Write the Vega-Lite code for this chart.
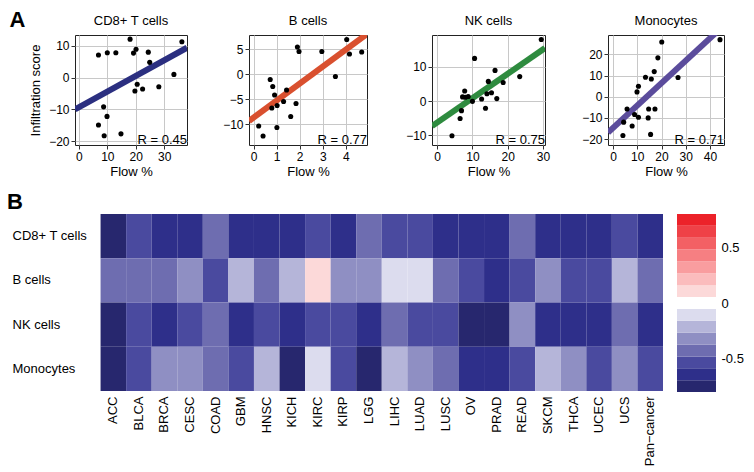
{
  "$schema": "https://vega.github.io/schema/vega-lite/v6.json",
  "padding": {"left": 7, "top": 8, "right": 5, "bottom": 5},
  "config": {
    "font": "Liberation Sans",
    "axis": {"labelFont": "Liberation Sans", "titleFont": "Liberation Sans", "labelColor": "#000", "titleColor": "#000", "titleFontWeight": "normal", "labelOverlap": false, "tickCount": 12},
    "title": {"font": "Liberation Sans", "fontWeight": "normal", "fontSize": 13, "color": "#000", "frame": "group", "offset": 7},
    "legend": {"labelFont": "Liberation Sans", "labelColor": "#000"}
  },
  "datasets": {
    "pts": [
      {"cell": "CD8+ T cells", "flow": 6.9, "score": 7.1},
      {"cell": "CD8+ T cells", "flow": 10.0, "score": 7.8},
      {"cell": "CD8+ T cells", "flow": 13.0, "score": 7.8},
      {"cell": "CD8+ T cells", "flow": 18.0, "score": 12.1},
      {"cell": "CD8+ T cells", "flow": 19.2, "score": 7.7},
      {"cell": "CD8+ T cells", "flow": 20.1, "score": 8.9},
      {"cell": "CD8+ T cells", "flow": 24.4, "score": 8.0},
      {"cell": "CD8+ T cells", "flow": 24.9, "score": 4.8},
      {"cell": "CD8+ T cells", "flow": 36.2, "score": 11.3},
      {"cell": "CD8+ T cells", "flow": 33.4, "score": 1.0},
      {"cell": "CD8+ T cells", "flow": 20.5, "score": -2.1},
      {"cell": "CD8+ T cells", "flow": 19.7, "score": -4.2},
      {"cell": "CD8+ T cells", "flow": 22.4, "score": -3.6},
      {"cell": "CD8+ T cells", "flow": 28.1, "score": -2.9},
      {"cell": "CD8+ T cells", "flow": 8.7, "score": -9.2},
      {"cell": "CD8+ T cells", "flow": 9.9, "score": -12.2},
      {"cell": "CD8+ T cells", "flow": 6.9, "score": -14.9},
      {"cell": "CD8+ T cells", "flow": 8.9, "score": -18.3},
      {"cell": "CD8+ T cells", "flow": 14.8, "score": -17.7},
      {"cell": "B cells", "flow": 0.22, "score": -10.4},
      {"cell": "B cells", "flow": 0.41, "score": -12.4},
      {"cell": "B cells", "flow": 0.72, "score": -1.1},
      {"cell": "B cells", "flow": 0.83, "score": -2.5},
      {"cell": "B cells", "flow": 0.91, "score": -4.2},
      {"cell": "B cells", "flow": 0.79, "score": -6.8},
      {"cell": "B cells", "flow": 1.02, "score": -6.3},
      {"cell": "B cells", "flow": 1.01, "score": -10.7},
      {"cell": "B cells", "flow": 1.43, "score": -3.2},
      {"cell": "B cells", "flow": 1.30, "score": -5.5},
      {"cell": "B cells", "flow": 1.61, "score": -8.5},
      {"cell": "B cells", "flow": 1.84, "score": -5.9},
      {"cell": "B cells", "flow": 1.90, "score": 5.4},
      {"cell": "B cells", "flow": 1.97, "score": 4.5},
      {"cell": "B cells", "flow": 2.96, "score": 4.5},
      {"cell": "B cells", "flow": 3.55, "score": -0.5},
      {"cell": "B cells", "flow": 4.04, "score": 6.9},
      {"cell": "B cells", "flow": 4.16, "score": 4.0},
      {"cell": "B cells", "flow": 4.69, "score": 4.4},
      {"cell": "NK cells", "flow": 29.5, "score": 17.9},
      {"cell": "NK cells", "flow": 10.6, "score": 12.4},
      {"cell": "NK cells", "flow": 16.4, "score": 8.9},
      {"cell": "NK cells", "flow": 23.4, "score": 7.1},
      {"cell": "NK cells", "flow": 14.5, "score": 5.7},
      {"cell": "NK cells", "flow": 18.7, "score": 5.4},
      {"cell": "NK cells", "flow": 15.4, "score": 2.4},
      {"cell": "NK cells", "flow": 14.1, "score": 2.1},
      {"cell": "NK cells", "flow": 7.8, "score": 2.9},
      {"cell": "NK cells", "flow": 7.2, "score": 1.2},
      {"cell": "NK cells", "flow": 8.0, "score": 1.1},
      {"cell": "NK cells", "flow": 8.8, "score": 1.3},
      {"cell": "NK cells", "flow": 10.0, "score": -0.1},
      {"cell": "NK cells", "flow": 12.6, "score": 0.6},
      {"cell": "NK cells", "flow": 16.9, "score": 0.7},
      {"cell": "NK cells", "flow": 13.7, "score": -2.1},
      {"cell": "NK cells", "flow": 6.9, "score": -2.8},
      {"cell": "NK cells", "flow": 6.5, "score": -5.1},
      {"cell": "NK cells", "flow": 4.2, "score": -10.1},
      {"cell": "Monocytes", "flow": 44.1, "score": 27.0},
      {"cell": "Monocytes", "flow": 20.1, "score": 25.9},
      {"cell": "Monocytes", "flow": 18.5, "score": 18.4},
      {"cell": "Monocytes", "flow": 17.0, "score": 11.9},
      {"cell": "Monocytes", "flow": 13.4, "score": 9.2},
      {"cell": "Monocytes", "flow": 15.8, "score": 8.4},
      {"cell": "Monocytes", "flow": 26.8, "score": 9.1},
      {"cell": "Monocytes", "flow": 10.5, "score": 5.0},
      {"cell": "Monocytes", "flow": 9.9, "score": 2.3},
      {"cell": "Monocytes", "flow": 5.8, "score": -5.8},
      {"cell": "Monocytes", "flow": 14.7, "score": -5.8},
      {"cell": "Monocytes", "flow": 17.3, "score": -5.8},
      {"cell": "Monocytes", "flow": 8.9, "score": -8.4},
      {"cell": "Monocytes", "flow": 10.5, "score": -9.7},
      {"cell": "Monocytes", "flow": 14.5, "score": -10.0},
      {"cell": "Monocytes", "flow": 7.9, "score": -13.8},
      {"cell": "Monocytes", "flow": 4.4, "score": -12.0},
      {"cell": "Monocytes", "flow": 4.1, "score": -18.3},
      {"cell": "Monocytes", "flow": 15.5, "score": -17.8}
    ],
    "fit": [
      {"cell": "CD8+ T cells", "flow": -1.35, "score": -10.0},
      {"cell": "CD8+ T cells", "flow": 38, "score": 9.4},
      {"cell": "B cells", "flow": -0.2, "score": -9.4},
      {"cell": "B cells", "flow": 4.92, "score": 8.0},
      {"cell": "NK cells", "flow": -1.46, "score": -7.3},
      {"cell": "NK cells", "flow": 30.56, "score": 15.4},
      {"cell": "Monocytes", "flow": -2.05, "score": -16.9},
      {"cell": "Monocytes", "flow": 45.75, "score": 33.8}
    ],
    "bins": [
      {"lo": -0.8, "hi": -0.6933, "mid": -0.7467},
      {"lo": -0.6933, "hi": -0.5867, "mid": -0.64},
      {"lo": -0.5867, "hi": -0.48, "mid": -0.5333},
      {"lo": -0.48, "hi": -0.3733, "mid": -0.4267},
      {"lo": -0.3733, "hi": -0.2667, "mid": -0.32},
      {"lo": -0.2667, "hi": -0.16, "mid": -0.2133},
      {"lo": -0.16, "hi": -0.0533, "mid": -0.1067},
      {"lo": -0.0533, "hi": 0.0533, "mid": 0},
      {"lo": 0.0533, "hi": 0.16, "mid": 0.1067},
      {"lo": 0.16, "hi": 0.2667, "mid": 0.2133},
      {"lo": 0.2667, "hi": 0.3733, "mid": 0.32},
      {"lo": 0.3733, "hi": 0.48, "mid": 0.4267},
      {"lo": 0.48, "hi": 0.5867, "mid": 0.5333},
      {"lo": 0.5867, "hi": 0.6933, "mid": 0.64},
      {"lo": 0.6933, "hi": 0.8, "mid": 0.7467}
    ],
    "heat": [
      {"cancer": "ACC", "cell": "CD8+ T cells", "r": -0.75}, {"cancer": "ACC", "cell": "B cells", "r": -0.43}, {"cancer": "ACC", "cell": "NK cells", "r": -0.75}, {"cancer": "ACC", "cell": "Monocytes", "r": -0.75},
      {"cancer": "BLCA", "cell": "CD8+ T cells", "r": -0.53}, {"cancer": "BLCA", "cell": "B cells", "r": -0.43}, {"cancer": "BLCA", "cell": "NK cells", "r": -0.53}, {"cancer": "BLCA", "cell": "Monocytes", "r": -0.53},
      {"cancer": "BRCA", "cell": "CD8+ T cells", "r": -0.64}, {"cancer": "BRCA", "cell": "B cells", "r": -0.43}, {"cancer": "BRCA", "cell": "NK cells", "r": -0.64}, {"cancer": "BRCA", "cell": "Monocytes", "r": -0.32},
      {"cancer": "CESC", "cell": "CD8+ T cells", "r": -0.64}, {"cancer": "CESC", "cell": "B cells", "r": -0.32}, {"cancer": "CESC", "cell": "NK cells", "r": -0.53}, {"cancer": "CESC", "cell": "Monocytes", "r": -0.32},
      {"cancer": "COAD", "cell": "CD8+ T cells", "r": -0.43}, {"cancer": "COAD", "cell": "B cells", "r": -0.53}, {"cancer": "COAD", "cell": "NK cells", "r": -0.43}, {"cancer": "COAD", "cell": "Monocytes", "r": -0.43},
      {"cancer": "GBM", "cell": "CD8+ T cells", "r": -0.64}, {"cancer": "GBM", "cell": "B cells", "r": -0.21}, {"cancer": "GBM", "cell": "NK cells", "r": -0.64}, {"cancer": "GBM", "cell": "Monocytes", "r": -0.53},
      {"cancer": "HNSC", "cell": "CD8+ T cells", "r": -0.64}, {"cancer": "HNSC", "cell": "B cells", "r": -0.43}, {"cancer": "HNSC", "cell": "NK cells", "r": -0.53}, {"cancer": "HNSC", "cell": "Monocytes", "r": -0.21},
      {"cancer": "KICH", "cell": "CD8+ T cells", "r": -0.64}, {"cancer": "KICH", "cell": "B cells", "r": -0.21}, {"cancer": "KICH", "cell": "NK cells", "r": -0.64}, {"cancer": "KICH", "cell": "Monocytes", "r": -0.75},
      {"cancer": "KIRC", "cell": "CD8+ T cells", "r": -0.53}, {"cancer": "KIRC", "cell": "B cells", "r": 0.1}, {"cancer": "KIRC", "cell": "NK cells", "r": -0.53}, {"cancer": "KIRC", "cell": "Monocytes", "r": -0.11},
      {"cancer": "KIRP", "cell": "CD8+ T cells", "r": -0.64}, {"cancer": "KIRP", "cell": "B cells", "r": -0.32}, {"cancer": "KIRP", "cell": "NK cells", "r": -0.53}, {"cancer": "KIRP", "cell": "Monocytes", "r": -0.53},
      {"cancer": "LGG", "cell": "CD8+ T cells", "r": -0.43}, {"cancer": "LGG", "cell": "B cells", "r": -0.32}, {"cancer": "LGG", "cell": "NK cells", "r": -0.64}, {"cancer": "LGG", "cell": "Monocytes", "r": -0.75},
      {"cancer": "LIHC", "cell": "CD8+ T cells", "r": -0.53}, {"cancer": "LIHC", "cell": "B cells", "r": -0.11}, {"cancer": "LIHC", "cell": "NK cells", "r": -0.43}, {"cancer": "LIHC", "cell": "Monocytes", "r": -0.21},
      {"cancer": "LUAD", "cell": "CD8+ T cells", "r": -0.53}, {"cancer": "LUAD", "cell": "B cells", "r": -0.11}, {"cancer": "LUAD", "cell": "NK cells", "r": -0.53}, {"cancer": "LUAD", "cell": "Monocytes", "r": -0.32},
      {"cancer": "LUSC", "cell": "CD8+ T cells", "r": -0.64}, {"cancer": "LUSC", "cell": "B cells", "r": -0.43}, {"cancer": "LUSC", "cell": "NK cells", "r": -0.53}, {"cancer": "LUSC", "cell": "Monocytes", "r": -0.43},
      {"cancer": "OV", "cell": "CD8+ T cells", "r": -0.64}, {"cancer": "OV", "cell": "B cells", "r": -0.53}, {"cancer": "OV", "cell": "NK cells", "r": -0.75}, {"cancer": "OV", "cell": "Monocytes", "r": -0.64},
      {"cancer": "PRAD", "cell": "CD8+ T cells", "r": -0.64}, {"cancer": "PRAD", "cell": "B cells", "r": -0.64}, {"cancer": "PRAD", "cell": "NK cells", "r": -0.75}, {"cancer": "PRAD", "cell": "Monocytes", "r": -0.64},
      {"cancer": "READ", "cell": "CD8+ T cells", "r": -0.43}, {"cancer": "READ", "cell": "B cells", "r": -0.53}, {"cancer": "READ", "cell": "NK cells", "r": -0.32}, {"cancer": "READ", "cell": "Monocytes", "r": -0.53},
      {"cancer": "SKCM", "cell": "CD8+ T cells", "r": -0.64}, {"cancer": "SKCM", "cell": "B cells", "r": -0.32}, {"cancer": "SKCM", "cell": "NK cells", "r": -0.64}, {"cancer": "SKCM", "cell": "Monocytes", "r": -0.21},
      {"cancer": "THCA", "cell": "CD8+ T cells", "r": -0.64}, {"cancer": "THCA", "cell": "B cells", "r": -0.53}, {"cancer": "THCA", "cell": "NK cells", "r": -0.64}, {"cancer": "THCA", "cell": "Monocytes", "r": -0.32},
      {"cancer": "UCEC", "cell": "CD8+ T cells", "r": -0.64}, {"cancer": "UCEC", "cell": "B cells", "r": -0.53}, {"cancer": "UCEC", "cell": "NK cells", "r": -0.64}, {"cancer": "UCEC", "cell": "Monocytes", "r": -0.53},
      {"cancer": "UCS", "cell": "CD8+ T cells", "r": -0.53}, {"cancer": "UCS", "cell": "B cells", "r": -0.21}, {"cancer": "UCS", "cell": "NK cells", "r": -0.43}, {"cancer": "UCS", "cell": "Monocytes", "r": -0.32},
      {"cancer": "Pan−cancer", "cell": "CD8+ T cells", "r": -0.64}, {"cancer": "Pan−cancer", "cell": "B cells", "r": -0.43}, {"cancer": "Pan−cancer", "cell": "NK cells", "r": -0.64}, {"cancer": "Pan−cancer", "cell": "Monocytes", "r": -0.53}
    ]
  },
  "vconcat": [
    {
      "title": {"text": "A", "orient": "left", "anchor": "end", "angle": 0, "align": "left", "baseline": "top", "frame": "bounds", "fontSize": 22, "fontWeight": "bold", "offset": 3, "dy": -5},
      "spacing": 25,
      "hconcat": [
        {
          "width": 112, "height": 110,
          "title": "CD8+ T cells",
          "view": {"stroke": "#222"},
          "layer": [
            {
              "data": {"name": "fit"},
              "transform": [{"filter": "datum.cell === 'CD8+ T cells'"}],
              "mark": {"type": "line", "color": "#2b2f80", "strokeWidth": 6, "clip": true},
              "encoding": {
                "x": {"field": "flow", "type": "quantitative", "scale": {"domain": [-1.35, 38], "nice": false, "zero": false},
                      "axis": {"title": "Flow %", "values": [0, 10, 20, 30], "format": "d", "tickCount": 12, "grid": true, "gridColor": "#c8c8c8", "domain": false, "tickColor": "#333", "tickSize": 4, "labelFontSize": 12, "labelPadding": 2, "titleFontSize": 13, "titlePadding": 3, "labelFlush": false}},
                "y": {"field": "score", "type": "quantitative", "scale": {"domain": [-21.2, 13.4], "nice": false, "zero": false},
                      "axis": {"title": "Infiltration score", "values": [-20, -10, 0, 10], "format": "d", "tickCount": 12, "grid": true, "gridColor": "#c8c8c8", "domain": false, "tickColor": "#333", "tickSize": 4, "labelFontSize": 12, "labelPadding": 2, "titleFontSize": 13, "titlePadding": 5, "minExtent": 28, "maxExtent": 28}}
              }
            },
            {
              "data": {"name": "pts"},
              "transform": [{"filter": "datum.cell === 'CD8+ T cells'"}],
              "mark": {"type": "circle", "size": 26, "color": "#000", "opacity": 1},
              "encoding": {"x": {"field": "flow", "type": "quantitative"}, "y": {"field": "score", "type": "quantitative"}}
            },
            {
              "data": {"values": [{"label": "R = 0.45"}]},
              "mark": {"type": "text", "align": "right", "baseline": "bottom", "fontSize": 13, "dy": 2},
              "encoding": {"x": {"datum": 38}, "y": {"datum": -21.2}, "text": {"field": "label"}}
            }
          ]
        },
        {
          "width": 118, "height": 110,
          "title": "B cells",
          "view": {"stroke": "#222"},
          "layer": [
            {
              "data": {"name": "fit"},
              "transform": [{"filter": "datum.cell === 'B cells'"}],
              "mark": {"type": "line", "color": "#d9502f", "strokeWidth": 6, "clip": true},
              "encoding": {
                "x": {"field": "flow", "type": "quantitative", "scale": {"domain": [-0.2, 4.92], "nice": false, "zero": false},
                      "axis": {"title": "Flow %", "values": [0, 1, 2, 3, 4], "format": "d", "tickCount": 12, "grid": true, "gridColor": "#c8c8c8", "domain": false, "tickColor": "#333", "tickSize": 4, "labelFontSize": 12, "labelPadding": 2, "titleFontSize": 13, "titlePadding": 3, "labelFlush": false}},
                "y": {"field": "score", "type": "quantitative", "scale": {"domain": [-14.2, 7.8], "nice": false, "zero": false},
                      "axis": {"title": null, "values": [-10, -5, 0, 5], "format": "d", "tickCount": 12, "grid": true, "gridColor": "#c8c8c8", "domain": false, "tickColor": "#333", "tickSize": 4, "labelFontSize": 12, "labelPadding": 2, "minExtent": 35, "maxExtent": 35}}
              }
            },
            {
              "data": {"name": "pts"},
              "transform": [{"filter": "datum.cell === 'B cells'"}],
              "mark": {"type": "circle", "size": 26, "color": "#000", "opacity": 1},
              "encoding": {"x": {"field": "flow", "type": "quantitative"}, "y": {"field": "score", "type": "quantitative"}}
            },
            {
              "data": {"values": [{"label": "R = 0.77"}]},
              "mark": {"type": "text", "align": "right", "baseline": "bottom", "fontSize": 13, "dy": 2},
              "encoding": {"x": {"datum": 4.92}, "y": {"datum": -14.2}, "text": {"field": "label"}}
            }
          ]
        },
        {
          "width": 113, "height": 110,
          "title": "NK cells",
          "view": {"stroke": "#222"},
          "layer": [
            {
              "data": {"name": "fit"},
              "transform": [{"filter": "datum.cell === 'NK cells'"}],
              "mark": {"type": "line", "color": "#2e8b3f", "strokeWidth": 6, "clip": true},
              "encoding": {
                "x": {"field": "flow", "type": "quantitative", "scale": {"domain": [-1.46, 30.56], "nice": false, "zero": false},
                      "axis": {"title": "Flow %", "values": [0, 10, 20, 30], "format": "d", "tickCount": 12, "grid": true, "gridColor": "#c8c8c8", "domain": false, "tickColor": "#333", "tickSize": 4, "labelFontSize": 12, "labelPadding": 2, "titleFontSize": 13, "titlePadding": 3, "labelFlush": false}},
                "y": {"field": "score", "type": "quantitative", "scale": {"domain": [-12.8, 19.2], "nice": false, "zero": false},
                      "axis": {"title": null, "values": [-10, 0, 10], "format": "d", "tickCount": 12, "grid": true, "gridColor": "#c8c8c8", "domain": false, "tickColor": "#333", "tickSize": 4, "labelFontSize": 12, "labelPadding": 2, "minExtent": 38, "maxExtent": 38}}
              }
            },
            {
              "data": {"name": "pts"},
              "transform": [{"filter": "datum.cell === 'NK cells'"}],
              "mark": {"type": "circle", "size": 26, "color": "#000", "opacity": 1},
              "encoding": {"x": {"field": "flow", "type": "quantitative"}, "y": {"field": "score", "type": "quantitative"}}
            },
            {
              "data": {"values": [{"label": "R = 0.75"}]},
              "mark": {"type": "text", "align": "right", "baseline": "bottom", "fontSize": 13, "dy": 2},
              "encoding": {"x": {"datum": 30.56}, "y": {"datum": -12.8}, "text": {"field": "label"}}
            }
          ]
        },
        {
          "width": 116, "height": 110,
          "title": "Monocytes",
          "view": {"stroke": "#222"},
          "layer": [
            {
              "data": {"name": "fit"},
              "transform": [{"filter": "datum.cell === 'Monocytes'"}],
              "mark": {"type": "line", "color": "#5b4c9c", "strokeWidth": 6, "clip": true},
              "encoding": {
                "x": {"field": "flow", "type": "quantitative", "scale": {"domain": [-2.05, 45.75], "nice": false, "zero": false},
                      "axis": {"title": "Flow %", "values": [0, 10, 20, 30, 40], "format": "d", "tickCount": 12, "grid": true, "gridColor": "#c8c8c8", "domain": false, "tickColor": "#333", "tickSize": 4, "labelFontSize": 12, "labelPadding": 2, "titleFontSize": 13, "titlePadding": 3, "labelFlush": false}},
                "y": {"field": "score", "type": "quantitative", "scale": {"domain": [-22.8, 29.2], "nice": false, "zero": false},
                      "axis": {"title": null, "values": [-20, -10, 0, 10, 20], "format": "d", "tickCount": 12, "grid": true, "gridColor": "#c8c8c8", "domain": false, "tickColor": "#333", "tickSize": 4, "labelFontSize": 12, "labelPadding": 2, "minExtent": 31, "maxExtent": 31}}
              }
            },
            {
              "data": {"name": "pts"},
              "transform": [{"filter": "datum.cell === 'Monocytes'"}],
              "mark": {"type": "circle", "size": 26, "color": "#000", "opacity": 1},
              "encoding": {"x": {"field": "flow", "type": "quantitative"}, "y": {"field": "score", "type": "quantitative"}}
            },
            {
              "data": {"values": [{"label": "R = 0.71"}]},
              "mark": {"type": "text", "align": "right", "baseline": "bottom", "fontSize": 13, "dy": 2},
              "encoding": {"x": {"datum": 45.75}, "y": {"datum": -22.8}, "text": {"field": "label"}}
            }
          ]
        }
      ]
    },
    {
      "title": {"text": "B", "orient": "left", "anchor": "end", "angle": 0, "align": "left", "baseline": "top", "frame": "bounds", "fontSize": 22, "fontWeight": "bold", "offset": -11, "dy": -22},
      "spacing": 14,
      "resolve": {"scale": {"color": "independent"}},
      "hconcat": [
        {
          "data": {"name": "heat"},
          "width": 588, "height": 177,
          "view": {"stroke": null},
          "mark": {"type": "rect"},
          "encoding": {
            "x": {"field": "cancer", "type": "nominal",
                  "scale": {"domain": ["", "ACC", "BLCA", "BRCA", "CESC", "COAD", "GBM", "HNSC", "KICH", "KIRC", "KIRP", "LGG", "LIHC", "LUAD", "LUSC", "OV", "PRAD", "READ", "SKCM", "THCA", "UCEC", "UCS", "Pan−cancer"]},
                  "axis": {"title": null, "labelAngle": -90, "ticks": false, "domain": false, "labelPadding": 5, "labelFontSize": 13}},
            "y": {"field": "cell", "type": "nominal", "sort": ["CD8+ T cells", "B cells", "NK cells", "Monocytes"],
                  "axis": {"title": null, "ticks": false, "domain": false, "labelAlign": "left", "labelPadding": 63, "labelFontSize": 13}},
            "color": {"field": "r", "type": "quantitative", "legend": null,
                      "scale": {"type": "quantize", "domain": [-0.8, 0.8], "nice": false, "zero": false,
                                "range": ["#27276e", "#2e2f8a", "#4a4a9f", "#6e6db0", "#8f8fc3", "#b5b5d9", "#dcdcee", "#ffffff", "#fcd9d9", "#fbbcbd", "#f99d9f", "#f67f82", "#f36064", "#ef4147", "#ec2229"]}}
          }
        },
        {
          "data": {"name": "bins"},
          "width": 39, "height": 178,
          "view": {"stroke": null},
          "mark": {"type": "rect"},
          "encoding": {
            "y": {"field": "lo", "type": "quantitative", "scale": {"domain": [-0.8, 0.8], "nice": false, "zero": false},
                  "axis": {"orient": "right", "title": null, "values": [-0.5, 0, 0.5], "tickCount": 12, "labelExpr": "'' + datum.value", "ticks": false, "domain": false, "grid": false, "labelPadding": 5, "labelFontSize": 13}},
            "y2": {"field": "hi"},
            "color": {"field": "mid", "type": "quantitative", "legend": null,
                      "scale": {"type": "quantize", "domain": [-0.8, 0.8], "nice": false, "zero": false,
                                "range": ["#27276e", "#2e2f8a", "#4a4a9f", "#6e6db0", "#8f8fc3", "#b5b5d9", "#dcdcee", "#ffffff", "#fcd9d9", "#fbbcbd", "#f99d9f", "#f67f82", "#f36064", "#ef4147", "#ec2229"]}}
          }
        }
      ]
    }
  ],
  "spacing": 12
}
